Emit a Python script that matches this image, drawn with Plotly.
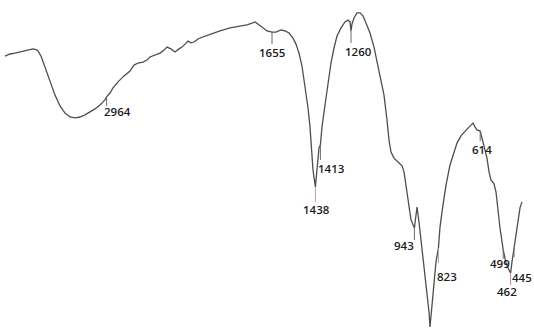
import numpy as np
import plotly.graph_objects as go

# IR spectrum: wavenumber (cm-1) and transmittance (arbitrary %T scale)
wavenumber = [
    3980, 3930, 3880, 3830, 3780, 3730, 3700, 3670, 3650, 3620, 3580, 3530, 3480,
    3430, 3380, 3330, 3280, 3230, 3180, 3130, 3080, 3030, 2980, 2964, 2930, 2900,
    2850, 2790, 2730, 2690, 2650, 2600, 2560, 2530, 2480, 2430, 2390, 2360, 2320,
    2280, 2240, 2210, 2180, 2150, 2120, 2090, 2050, 2000,
    1975, 1950, 1915, 1865, 1815, 1780, 1755, 1740, 1725, 1705, 1680, 1655, 1635,
    1610, 1590, 1570, 1550, 1535, 1520, 1505, 1490, 1475, 1465, 1455, 1450, 1438,
    1430, 1425, 1420, 1413, 1405, 1390, 1375, 1360, 1345, 1330, 1310, 1290, 1275,
    1265, 1260, 1255, 1245, 1230, 1215, 1200, 1185, 1165, 1145, 1125, 1110, 1095,
    1080, 1070, 1060, 1045, 1025, 1005, 995, 985, 970, 960, 943, 935, 930, 920,
    910, 900, 890, 880, 870, 865, 855, 845, 835, 823, 815, 800, 785, 765, 745,
    730, 710, 690, 675, 660, 650, 640, 630, 614, 610, 600, 590, 580, 570, 560,
    545, 535, 525, 515, 499, 495, 485, 470, 462, 455, 445, 435, 425, 415, 405,
]
transmittance = [
    91.3, 92.0, 92.3, 92.7, 93.0, 93.3, 93.7, 93.5, 93.0, 91.3, 87.7, 83.0, 78.3,
    74.7, 72.3, 71.0, 70.7, 71.0, 71.7, 72.7, 73.7, 75.0, 76.7, 77.7, 79.0, 80.7,
    82.7, 84.7, 86.3, 88.3, 89.0, 89.3, 90.0, 91.0, 91.7, 92.3, 93.3, 94.3, 93.7,
    92.7, 93.7, 94.3, 95.3, 96.3, 95.7, 96.0, 97.0, 97.7,
    98.3, 99.0, 99.7, 100.7, 101.3, 101.7, 102.3, 102.7, 102.0, 101.0, 99.7, 99.3, 99.3,
    100.0, 99.7, 99.0, 97.3, 95.3, 92.3, 88.0, 81.7, 74.0, 67.7, 58.3, 53.3, 47.7,
    52.7, 56.7, 60.7, 61.7, 67.7, 75.0, 82.7, 89.0, 94.0, 98.0, 100.7, 102.7, 103.3,
    102.7, 99.7, 102.0, 104.0, 105.7, 105.7, 104.7, 102.3, 99.0, 94.3, 88.3, 83.3, 78.3,
    70.0, 63.3, 59.3, 57.3, 56.0, 54.7, 52.7, 48.3, 41.7, 36.7, 34.0, 38.3, 41.0, 36.0,
    30.0, 24.3, 18.3, 12.3, 6.0, 1.0, 8.3, 15.0, 22.7, 27.3, 34.3, 41.7, 48.3, 55.0, 59.3,
    62.3, 64.7, 66.3, 67.3, 68.3, 69.0, 67.7, 66.7, 66.3, 65.3, 62.7, 60.0, 57.3, 52.7, 50.0,
    48.7, 46.0, 40.0, 34.0, 26.7, 25.0, 22.3, 20.0, 19.0, 22.7, 27.3, 32.3, 36.7, 40.7, 42.7,
]

# Assigned band positions (cm-1)
peak_labels = [2964, 1655, 1438, 1413, 1260, 943, 823, 614, 499, 462, 445]

wn = np.array(wavenumber, dtype=float)
tr = np.array(transmittance, dtype=float)

W, H = 534, 329
fig = go.Figure()

line_style = dict(color="#4e4e4e", width=1.3)
hi = wn >= 2000
lo = wn <= 2000
# the instrument changes scale at 2000 cm-1: two x axes side by side
fig.add_trace(go.Scatter(x=wn[hi], y=tr[hi], mode="lines", line=line_style,
                         xaxis="x", yaxis="y", showlegend=False))
fig.add_trace(go.Scatter(x=wn[lo], y=tr[lo], mode="lines", line=line_style,
                         xaxis="x2", yaxis="y", showlegend=False))

# label placement (pixel offsets) and marker tint for each band
label_dx = {2964: 11, 1655: 0, 1438: 1, 1413: 11, 1260: 7, 943: -10,
            823: 9, 614: 2, 499: -3, 462: -4, 445: 8}
label_dy = {2964: 15, 1655: 20, 1438: 23, 1413: 24, 1260: 21, 943: 17,
            823: 28, 614: 18, 499: 14, 462: 18, 445: 29}
tick_len = {2964: 3.0, 1655: 4.0, 1438: 5.0, 1413: 5.0, 1260: 4.0, 943: 4.0,
            823: 5.0, 614: 3.3, 499: 3.0, 462: 4.0, 445: 3.0}
tick_col = {1438: "#c99a9a", 823: "#b09a9a", 462: "#c98a8a"}

order = np.argsort(wn)
for p in peak_labels:
    t = float(np.interp(p, wn[order], tr[order]))
    ax_name = "x" if p >= 2000 else "x2"
    fig.add_trace(go.Scatter(x=[p, p], y=[t, t - tick_len[p]], mode="lines",
                             line=dict(color=tick_col.get(p, "#6a6a6a"), width=1),
                             xaxis=ax_name, yaxis="y", showlegend=False,
                             hoverinfo="skip"))
    fig.add_annotation(x=p, y=t, xref=ax_name, yref="y", text=str(p),
                       showarrow=False, xshift=label_dx[p], yshift=-label_dy[p],
                       font=dict(family="Open Sans", size=11.5, color="#1c1c1c",
                                 weight=600))

fig.update_layout(
    width=W, height=H,
    margin=dict(l=0, r=0, t=0, b=0),
    paper_bgcolor="white", plot_bgcolor="white",
    xaxis=dict(domain=[3 / W, 203 / W], range=[4000, 2000], visible=False),
    xaxis2=dict(domain=[203 / W, 523 / W], range=[2000, 400], visible=False,
                anchor="y"),
    yaxis=dict(domain=[0, 1], range=[(330 - 329) / 3, 110], visible=False),
    showlegend=False,
)

fig.write_html("out.html")
